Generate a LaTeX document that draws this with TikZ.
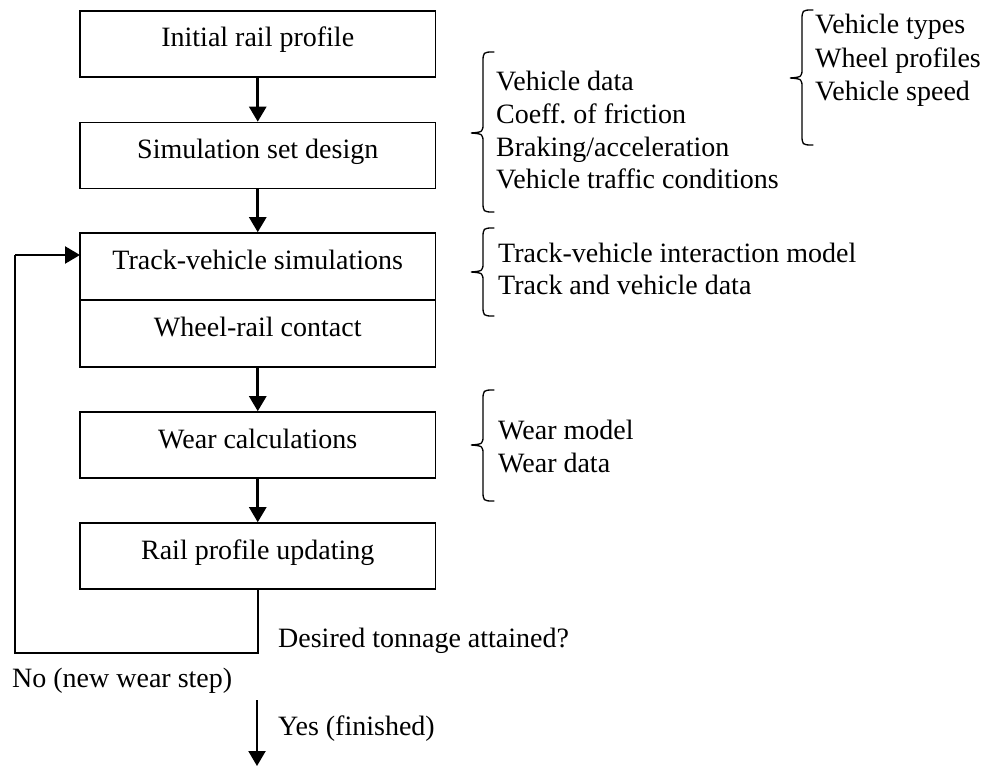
\documentclass[tikz,border=0pt]{standalone}
\usepackage{fontspec}
\setmainfont{Liberation Serif}
\usetikzlibrary{arrows.meta}
\frenchspacing

% curly brace: #1 stem x, #2 top y, #3 tip y, #4 bottom y
\newcommand{\drawbrace}[4]{%
  \draw[bracestyle] (#1+11,#2) .. controls (#1,#2) .. (#1,#2+11)
    -- (#1,#3-10) .. controls (#1,#3-1) .. (#1-12,#3)
    .. controls (#1,#3+1) .. (#1,#3+10)
    -- (#1,#4-11) .. controls (#1,#4) .. (#1+11,#4);}

\begin{document}
\begin{tikzpicture}[x=1pt, y={(0pt,-1pt)},
  font=\fontsize{28}{33}\selectfont,
  box/.style={draw, line width=1.6pt, minimum width=355.5pt, minimum height=66pt,
              inner sep=0pt, text height=18pt, text depth=12pt},
  flow/.style={line width=2.6pt, -{Triangle[length=15pt,width=17pt]}},
  loopline/.style={line width=2.4pt},
  lbl/.style={anchor=base west, inner sep=0pt},
  bracestyle/.style={line width=1.3pt, line cap=round}]

\useasboundingbox (0,0) rectangle (984,767);

% process boxes
\node[box] (init) at (257.75,44)    {Initial rail profile};
\node[box] (simset) at (257.75,155.5) {Simulation set design};
\node[box, minimum height=67pt] (tvsim) at (257.75,266.5) {Track-vehicle simulations};
\node[box, minimum height=67pt] (contact) at (257.75,333.5) {Wheel-rail contact};
\node[box] (wear) at (257.75,445)   {Wear calculations};
\node[box] (update) at (257.75,556) {Rail profile updating};

% main flow
\draw[flow] (init.south) -- (simset.north);
\draw[flow] (simset.south) -- (tvsim.north);
\draw[flow] (contact.south) -- (wear.north);
\draw[flow] (wear.south) -- (update.north);

% feedback loop
\coordinate (loopcorner) at (15,653);
\coordinate (loopin) at (80,255);
\draw[loopline] (update.south) |- (loopcorner) -- (loopcorner |- loopin);
\draw[flow, line width=2.4pt] (loopcorner |- loopin) -- (loopin);

% exit arrow
\coordinate (yesstart) at (257,700);
\coordinate (yesend) at (257,766);
\draw[flow, line width=2.2pt] (yesstart) -- (yesend);

% decision labels
\node[lbl] (desired) at (278,647) {Desired tonnage attained?};
\node[lbl] (no) at (12,687) {No (new wear step)};
\node[lbl] (yes) at (278,735) {Yes (finished)};

% vehicle input list
\drawbrace{802}{10}{78}{145}
\node[lbl] (vt1) at (815,34)  {Vehicle types};
\node[lbl] (vt2) at (815,68)  {Wheel profiles};
\node[lbl] (vt3) at (815,101) {Vehicle speed};

% simulation set inputs
\drawbrace{483}{52}{133}{212}
\node[lbl] (sd1) at (496,91)  {Vehicle data};
\node[lbl] (sd2) at (496,124) {Coeff. of friction};
\node[lbl] (sd3) at (496,157) {Braking/acceleration};
\node[lbl] (sd4) at (496,189) {Vehicle traffic conditions};

% simulation inputs
\drawbrace{483}{228}{272}{316}
\node[lbl] (ts1) at (498,262) {Track-vehicle interaction model};
\node[lbl] (ts2) at (498,294) {Track and vehicle data};

% wear inputs
\drawbrace{483}{390}{445}{501}
\node[lbl] (wm1) at (498,439) {Wear model};
\node[lbl] (wm2) at (498,472) {Wear data};

\end{tikzpicture}
\end{document}
